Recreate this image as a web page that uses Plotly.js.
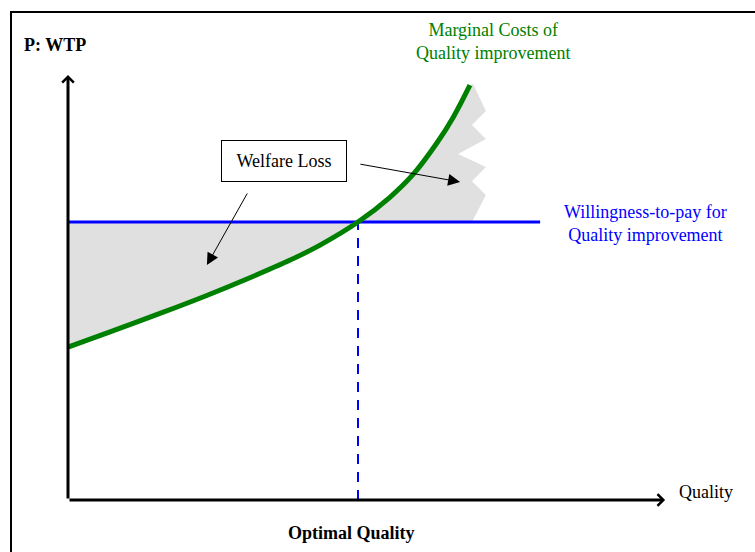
<!DOCTYPE html>
<html>
<head>
<meta charset="utf-8">
<script src="https://cdn.plot.ly/plotly-3.0.1.min.js"></script>
<style>html,body{margin:0;padding:0;background:#fff;}#chart{width:755px;height:552px;}</style>
</head>
<body>
<div id="chart"></div>
<script>
// ---- data (quality units; optimal quality = 10, WTP level = 10) ----
const mcQuality = [0, 1.45, 3.17, 4.72, 6.17, 7.66, 8.69, 10, 11.10, 11.90, 12.72, 13.28, 13.86];
const marginalCost = [5.50, 6.05, 6.71, 7.33, 7.95, 8.63, 9.17, 10, 10.89, 11.71, 12.84, 13.76, 14.92];
const wtpLevel = 10;
const wtpEndQuality = 16.28;
const optimalQuality = 10;
const edgeQuality = [13.97, 14.41, 13.93, 14.41, 13.45, 14.41, 13.93, 14.41, 13.93];
const edgeCost = [14.96, 13.99, 13.49, 12.99, 12.45, 11.98, 11.47, 10.97, 10.0];
const axisMaxQuality = 20.59;
const axisMaxPrice = 15.29;

// ---- build shaded areas ----
const leftQ = [], leftP = [];
leftQ.push(0); leftP.push(wtpLevel);
leftQ.push(optimalQuality); leftP.push(wtpLevel);
for (let i = mcQuality.length - 1; i >= 0; i--) {
  if (mcQuality[i] <= optimalQuality) { leftQ.push(mcQuality[i]); leftP.push(marginalCost[i]); }
}
const rightQ = [], rightP = [];
for (let i = 0; i < mcQuality.length; i++) {
  if (mcQuality[i] >= optimalQuality) { rightQ.push(mcQuality[i]); rightP.push(marginalCost[i]); }
}
for (let i = 0; i < edgeQuality.length; i++) { rightQ.push(edgeQuality[i]); rightP.push(edgeCost[i]); }
rightQ.push(optimalQuality); rightP.push(wtpLevel);

const gray = '#e0e0e0';
const traces = [
  {x: leftQ, y: leftP, mode: 'lines', fill: 'toself', fillcolor: gray, line: {width: 0, color: gray}, hoverinfo: 'skip'},
  {x: rightQ, y: rightP, mode: 'lines', fill: 'toself', fillcolor: gray, line: {width: 0, color: gray}, hoverinfo: 'skip'},
  {x: [0, wtpEndQuality], y: [wtpLevel, wtpLevel], mode: 'lines', line: {color: '#0000ff', width: 3}},
  {x: [optimalQuality, optimalQuality], y: [0, wtpLevel], mode: 'lines', line: {color: '#0000ff', width: 2, dash: '10px,8px'}},
  {x: mcQuality, y: marginalCost, mode: 'lines', line: {color: '#008000', width: 5, shape: 'spline', smoothing: 1}}
];

const serif = 'Liberation Serif, Times New Roman, serif';
const annotations = [
  // axes with chevron heads
  {x: 0, y: axisMaxPrice, ax: 0, ay: 0, xref: 'x', yref: 'y', axref: 'x', ayref: 'y', text: '', showarrow: true, arrowhead: 4, arrowsize: 0.75, arrowwidth: 3, arrowcolor: '#000'},
  {x: axisMaxQuality, y: 0, ax: 0, ay: 0, xref: 'x', yref: 'y', axref: 'x', ayref: 'y', text: '', showarrow: true, arrowhead: 4, arrowsize: 0.75, arrowwidth: 3, arrowcolor: '#000'},
  // welfare-loss pointers
  {x: 4.79, y: 8.45, ax: 6.21, ay: 11.08, xref: 'x', yref: 'y', axref: 'x', ayref: 'y', text: '', showarrow: true, arrowhead: 2, arrowsize: 2.4, arrowwidth: 1, arrowcolor: '#000'},
  {x: 13.52, y: 11.44, ax: 10.03, ay: 12.09, xref: 'x', yref: 'y', axref: 'x', ayref: 'y', text: '', showarrow: true, arrowhead: 2, arrowsize: 2.4, arrowwidth: 1, arrowcolor: '#000'},
  // labels
  {x: 7.44, y: 12.21, xref: 'x', yref: 'y', text: 'Welfare Loss', showarrow: false, font: {family: serif, size: 18, color: '#000'}, bgcolor: '#fff', bordercolor: '#000', borderwidth: 1, borderpad: 2, width: 120, height: 36},
  {x: -0.45, y: 16.37, xref: 'x', yref: 'y', text: '<b>P: WTP</b>', showarrow: false, font: {family: serif, size: 18, color: '#000'}},
  {x: 14.64, y: 16.51, xref: 'x', yref: 'y', text: 'Marginal Costs of<br>Quality improvement', showarrow: false, font: {family: serif, size: 18, color: '#008000'}},
  {x: 19.93, y: 9.95, xref: 'x', yref: 'y', text: 'Willingness-to-pay for<br>Quality improvement', showarrow: false, font: {family: serif, size: 18, color: '#0000ff'}},
  {x: 22.0, y: 0.29, xref: 'x', yref: 'y', text: 'Quality', showarrow: false, font: {family: serif, size: 18, color: '#000'}},
  {x: 9.79, y: -1.19, xref: 'x', yref: 'y', text: '<b>Optimal Quality</b>', showarrow: false, font: {family: serif, size: 18, color: '#000'}}
];

const layout = {
  width: 755, height: 552,
  margin: {l: 0, r: 0, t: 0, b: 0, pad: 0},
  paper_bgcolor: '#fff', plot_bgcolor: '#fff',
  showlegend: false,
  xaxis: {range: [-2.345, 23.69], visible: false, fixedrange: true},
  yaxis: {range: [-1.871, 17.986], visible: false, fixedrange: true},
  shapes: [
    {type: 'rect', xref: 'paper', yref: 'paper', x0: 11 / 755, x1: 1.02, y0: -0.02, y1: 1 - 12 / 552, line: {color: '#000', width: 2}, fillcolor: 'rgba(0,0,0,0)', layer: 'below'}
  ],
  annotations: annotations
};

Plotly.newPlot('chart', traces, layout, {staticPlot: true, displayModeBar: false});
</script>
</body>
</html>
